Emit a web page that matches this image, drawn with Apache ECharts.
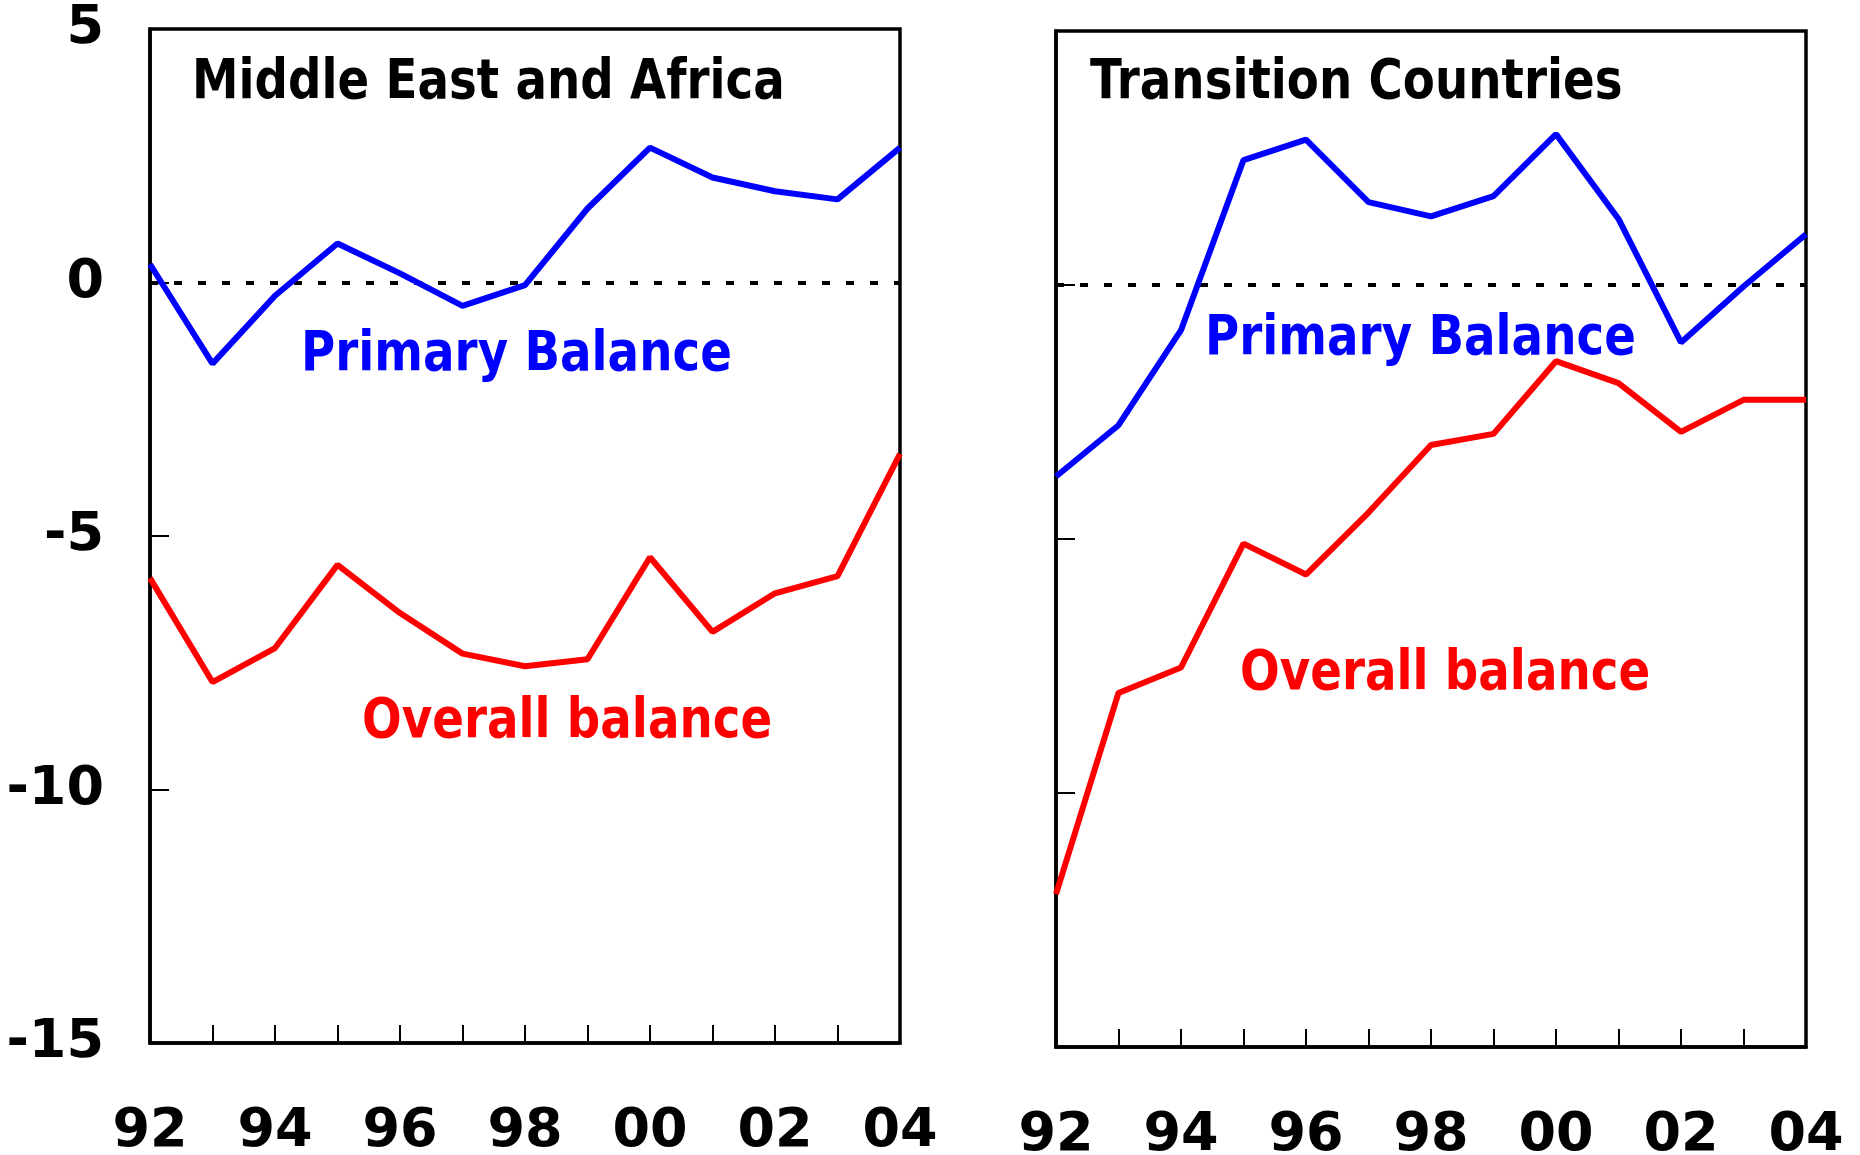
<!DOCTYPE html>
<html>
<head>
<meta charset="utf-8">
<script src="https://cdn.jsdelivr.net/npm/echarts@6/dist/echarts.min.js"></script>
<style>
html, body { margin: 0; padding: 0; background: #fff; }
#chart { width: 1860px; height: 1155px; }
</style>
</head>
<body>
<div id="chart"></div>
<script>
var years = ['92', '93', '94', '95', '96', '97', '98', '99', '00', '01', '02', '03', '04'];

/*Middle East and Africa*/
var meaPrimary = [0.36, -1.60, -0.26, 0.77, 0.18, -0.46, -0.05, 1.46, 2.66, 2.07, 1.80, 1.64, 2.66];
var meaOverall = [-5.83, -7.88, -7.21, -5.57, -6.52, -7.32, -7.57, -7.43, -5.42, -6.89, -6.13, -5.79, -3.38];

/*Transition Countries*/
var tcPrimary = [-3.77, -2.76, -0.89, 2.46, 2.86, 1.63, 1.35, 1.75, 2.97, 1.30, -1.13, -0.03, 1.00];
var tcOverall = [-11.99, -8.03, -7.53, -5.09, -5.70, -4.48, -3.15, -2.93, -1.50, -1.93, -2.89, -2.26, -2.26];

var yMin = -15;
var yMax = 5;
var yStep = 5;

var labelFont = 'DejaVu Sans';

function makeXAxis(gridIndex) {
    return {
        type: 'category',
        gridIndex: gridIndex,
        data: years,
        boundaryGap: false,
        axisLine: { onZero: false, lineStyle: { color: '#000', width: 3.5 } },
        axisTick: { inside: true, interval: 0, length: 18, lineStyle: { color: '#000', width: 2 } },
        axisLabel: {
            interval: 1,
            margin: 62,
            color: '#000',
            fontFamily: labelFont,
            fontWeight: 'bold',
            fontSize: 54
        },
        splitLine: { show: false }
    };
}

function makeYAxis(gridIndex, showLabels) {
    return {
        type: 'value',
        gridIndex: gridIndex,
        min: yMin,
        max: yMax,
        interval: yStep,
        axisLine: { show: true, onZero: false, lineStyle: { color: '#000', width: 3.5 } },
        axisTick: { show: true, inside: true, length: 19, lineStyle: { color: '#000', width: 2 } },
        axisLabel: {
            show: showLabels,
            margin: 46,
            color: '#000',
            fontFamily: labelFont,
            fontWeight: 'bold',
            fontSize: 54
        },
        splitLine: { show: false }
    };
}

function makeLine(name, data, color, idx, zeroLine) {
    var s = {
        name: name,
        type: 'line',
        xAxisIndex: idx,
        yAxisIndex: idx,
        data: data,
        symbol: 'none',
        lineStyle: { color: color, width: 6 },
        z: 5
    };
    if (zeroLine) {
        /*dotted zero line*/
        s.markLine = {
            silent: true,
            symbol: 'none',
            label: { show: false },
            lineStyle: { color: '#000', type: [8, 16], width: 4, opacity: 1 },
            data: [{ yAxis: 0 }]
        };
    }
    return s;
}

function textItem(txt, x, y, color) {
    return {
        type: 'text',
        x: x,
        y: y,
        scaleX: 0.85,
        z: 10,
        style: {
            text: txt,
            fill: color,
            font: 'bold 55px "DejaVu Sans"',
            textVerticalAlign: 'top'
        }
    };
}

var myChart = echarts.init(document.getElementById('chart'), null, { renderer: 'canvas' });
var option = {
    animation: false,
    backgroundColor: '#fff',
    grid: [
        { left: 150, top: 29, width: 750, height: 1014, containLabel: false, outerBoundsMode: 'none',
          show: true, borderColor: '#000', borderWidth: 3.5 },
        { left: 1056, top: 31, width: 750, height: 1016, containLabel: false, outerBoundsMode: 'none',
          show: true, borderColor: '#000', borderWidth: 3.5 }
    ],
    xAxis: [makeXAxis(0), makeXAxis(1)],
    yAxis: [makeYAxis(0, true), makeYAxis(1, false)],
    series: [
        makeLine('Primary Balance', meaPrimary, '#0000ff', 0, true),
        makeLine('Overall balance', meaOverall, '#ff0000', 0, false),
        makeLine('Primary Balance', tcPrimary, '#0000ff', 1, true),
        makeLine('Overall balance', tcOverall, '#ff0000', 1, false)
    ],
    graphic: [
        textItem('Middle East and Africa', 192, 56, '#000'),
        textItem('Primary Balance', 301, 328, '#0000ff'),
        textItem('Overall balance', 362, 695, '#ff0000'),
        textItem('Transition Countries', 1090, 56, '#000'),
        textItem('Primary Balance', 1205, 312, '#0000ff'),
        textItem('Overall balance', 1240, 647, '#ff0000')
    ]
};
myChart.setOption(option);
</script>
</body>
</html>
